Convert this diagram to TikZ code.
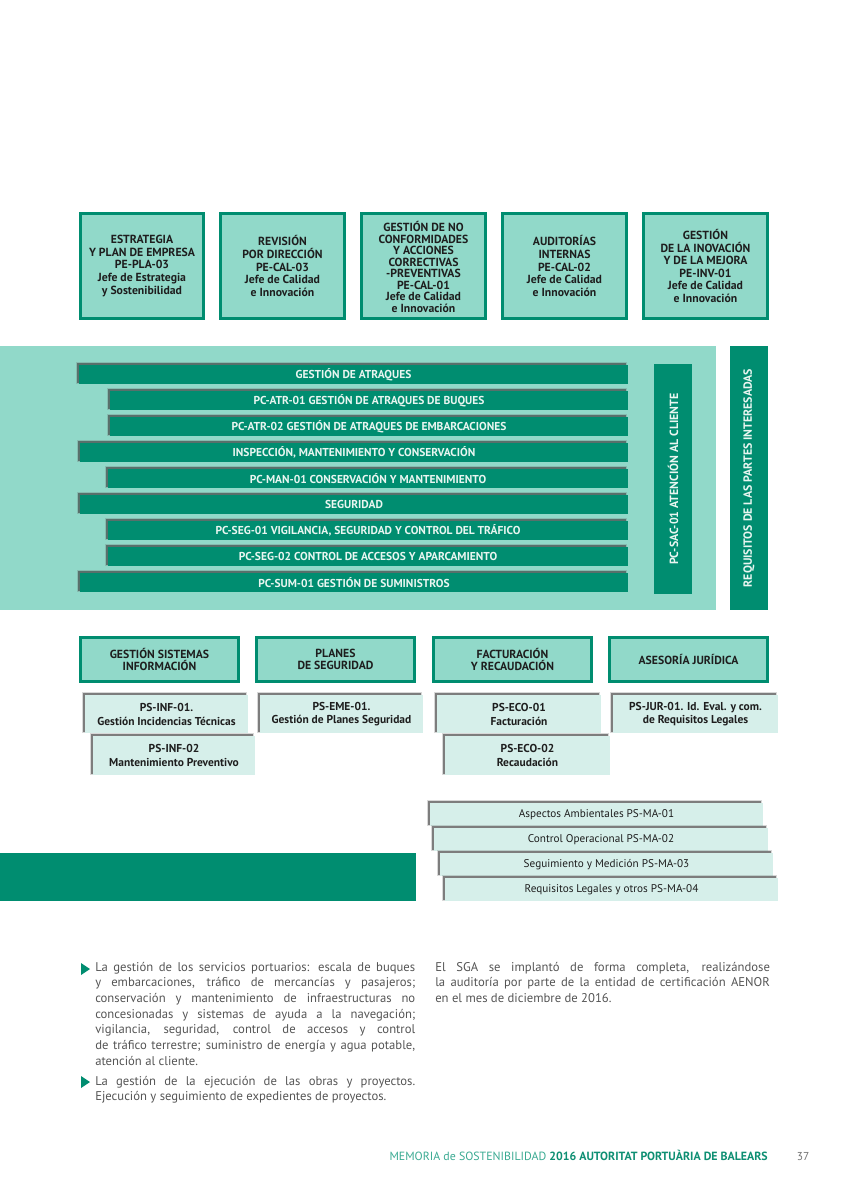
\documentclass[tikz,border=0pt]{standalone}
\usepackage{fontspec}
\setmainfont{PT Sans}
\definecolor{dg}{HTML}{008D70}
\definecolor{mint}{HTML}{91D9C9}
\definecolor{pale}{HTML}{D6EFEA}
\definecolor{txt}{HTML}{1E1E1E}
\definecolor{bodyc}{HTML}{555555}
\definecolor{footl}{HTML}{3AAA92}
\definecolor{footd}{HTML}{0E8F73}
\definecolor{bartext}{HTML}{E9F6F1}
\tikzset{
  hdr/.style={draw=dg, fill=mint, line width=2.4pt},
  hdrtxt/.style={align=center, text=txt, inner sep=0pt, font=\fontsize{8.8}{9.4}\selectfont\bfseries},
  bartxt/.style={text=bartext, inner sep=0pt, font=\fontsize{8.6}{9}\selectfont\bfseries},
  vtxt/.style={text=bartext, inner sep=0pt, rotate=90, font=\fontsize{8.9}{9}\selectfont\bfseries},
  paletxt/.style={align=center, text=txt, inner sep=0pt, font=\fontsize{8.6}{9.8}\selectfont\bfseries},
  envtxt/.style={text=txt, inner sep=0pt, font=\fontsize{8.4}{9}\selectfont},
  shadowA/.style={fill=black!80, opacity=.55},
  shadowB/.style={fill=black!60, opacity=.25},
  bodytxt/.style={anchor=north west, inner sep=0pt, align=justify, text=bodyc, font=\fontsize{9.5}{11.7}\selectfont},
}
\newcommand\topbox[6]{%
  \draw[hdr] (#1+1.6,#2+1.6) rectangle (#3-1.6,#4-1.6);
  \node[hdrtxt] (#5) at ({(#1+#3)/2},{(#2+#4)/2}) {#6};}
\newcommand\shadowed[5]{% x1 y1 x2 y2 fill
  \fill[shadowB] (#1-3.5,#2-3.5) rectangle (#3-1,#4);
  \fill[shadowA] (#1-2.5,#2-2.5) rectangle (#3-2,#4-1);
  \fill[#5] (#1,#2) rectangle (#3,#4);}
\begin{document}
\begin{tikzpicture}[x=0.75pt,y=-0.75pt]
\useasboundingbox (0,0) rectangle (849,1200);
\fill[white] (0,0) rectangle (849,1200);
% top boxes
\topbox{79}{212}{205}{320}{b1}{ESTRATEGIA\\Y PLAN DE EMPRESA\\PE-PLA-03\\Jefe de Estrategia\\y Sostenibilidad}
\topbox{219}{212}{346}{320}{b2}{REVISIÓN\\POR DIRECCIÓN\\PE-CAL-03\\Jefe de Calidad\\e Innovación}
\draw[hdr] (361.6,213.6) rectangle (485.4,318.4);
\node[hdrtxt, font=\fontsize{8.8}{8.6}\selectfont\bfseries] (b3) at (423.5,267) {GESTIÓN DE NO\\CONFORMIDADES\\Y ACCIONES\\CORRECTIVAS\\-PREVENTIVAS\\PE-CAL-01\\Jefe de Calidad\\e Innovación};
\topbox{501}{212}{628}{320}{b4}{AUDITORÍAS\\INTERNAS\\PE-CAL-02\\Jefe de Calidad\\e Innovación}
\topbox{642}{212}{769}{320}{b5}{GESTIÓN\\DE LA INOVACIÓN\\Y DE LA MEJORA\\PE-INV-01\\Jefe de Calidad\\e Innovación}
% panel
\fill[mint] (0,346) rectangle (716,610);
\shadowed{79}{365}{628}{384}{dg}
\node[bartxt] (r1) at (353.5,374.5) {GESTIÓN DE ATRAQUES};
\shadowed{110}{391}{628}{410}{dg}
\node[bartxt] (r2) at (369,400.5) {PC-ATR-01 GESTIÓN DE ATRAQUES DE BUQUES};
\shadowed{110}{417}{628}{436}{dg}
\node[bartxt] (r3) at (369,426.5) {PC-ATR-02 GESTIÓN DE ATRAQUES DE EMBARCACIONES};
\shadowed{80}{443}{628}{462}{dg}
\node[bartxt] (r4) at (354,452.5) {INSPECCIÓN, MANTENIMIENTO Y CONSERVACIÓN};
\shadowed{108}{469}{628}{488}{dg}
\node[bartxt] (r5) at (368,478.5) {PC-MAN-01 CONSERVACIÓN Y MANTENIMIENTO};
\shadowed{80}{495}{628}{514}{dg}
\node[bartxt] (r6) at (354,504.5) {SEGURIDAD};
\shadowed{108}{521}{628}{540}{dg}
\node[bartxt] (r7) at (368,530.5) {PC-SEG-01 VIGILANCIA, SEGURIDAD Y CONTROL DEL TRÁFICO};
\shadowed{108}{547}{628}{566}{dg}
\node[bartxt] (r8) at (368,556.5) {PC-SEG-02 CONTROL DE ACCESOS Y APARCAMIENTO};
\shadowed{80}{573}{628}{592}{dg}
\node[bartxt] (r9) at (354,582.5) {PC-SUM-01 GESTIÓN DE SUMINISTROS};
\fill[dg] (654,364) rectangle (692,594);
\node[vtxt] (sac) at (673,479) {PC-SAC-01 ATENCIÓN AL CLIENTE};
\fill[dg] (730,346) rectangle (768,610);
\node[vtxt] (req) at (749,478) {REQUISITOS DE LAS PARTES INTERESADAS};
% support headers
\topbox{79}{636}{240}{683}{s1}{GESTIÓN SISTEMAS\\INFORMACIÓN}
\topbox{255}{636}{416}{683}{s2}{PLANES\\DE SEGURIDAD}
\topbox{432}{636}{593}{683}{s3}{FACTURACIÓN\\Y RECAUDACIÓN}
\topbox{608}{636}{769}{683}{s4}{ASESORÍA JURÍDICA}
% pale boxes
\shadowed{85}{695}{248}{733}{pale}
\node[paletxt] (p1) at (166.5,714.5) {PS-INF-01.\\Gestión Incidencias Técnicas};
\shadowed{93}{736}{255}{775}{pale}
\node[paletxt] (p2) at (174,755.5) {PS-INF-02\\Mantenimiento Preventivo};
\shadowed{260}{695}{423}{733}{pale}
\node[paletxt] (p3) at (341.5,714.5) {PS-EME-01.\\Gestión de Planes Seguridad};
\shadowed{437}{695}{601}{733}{pale}
\node[paletxt] (p4) at (519,714.5) {PS-ECO-01\\Facturación};
\shadowed{445}{736}{610}{775}{pale}
\node[paletxt] (p5) at (527.5,755.5) {PS-ECO-02\\Recaudación};
\shadowed{613}{695}{778}{733}{pale}
\node[paletxt] (p6) at (695.5,714.5) {PS-JUR-01. Id. Eval. y com.\\de Requisitos Legales};
% environmental
\shadowed{430}{803}{763}{826}{pale}
\node[envtxt] (e1) at (596.5,814.5) {Aspectos Ambientales PS-MA-01};
\shadowed{434}{828}{768}{851}{pale}
\node[envtxt] (e2) at (601,839.5) {Control Operacional PS-MA-02};
\shadowed{440}{853}{773}{876}{pale}
\node[envtxt] (e3) at (606.5,864.5) {Seguimiento y Medición PS-MA-03};
\shadowed{445}{878}{778}{901}{pale}
\node[envtxt] (e4) at (611.5,889.5) {Requisitos Legales y otros PS-MA-04};
\fill[dg] (0,853) rectangle (416,901);
% body text
\fill[dg] (81,963) -- (90,969) -- (81,975) -- cycle;
\node[bodytxt, text width=240pt] (t1) at (95,962) {La gestión de los servicios portuarios: escala de buques\linebreak y embarcaciones, tráfico de mercancías y pasajeros;\linebreak conservación y mantenimiento de infraestructuras no\linebreak concesionadas y sistemas de ayuda a la navegación;\linebreak vigilancia, seguridad, control de accesos y control\linebreak de tráfico terrestre; suministro de energía y agua potable,\linebreak atención al cliente.};
\fill[dg] (81,1076) -- (90,1082) -- (81,1088) -- cycle;
\node[bodytxt, text width=240pt] (t2) at (95,1076) {La gestión de la ejecución de las obras y proyectos.\linebreak Ejecución y seguimiento de expedientes de proyectos.};
\node[bodytxt, text width=251pt] (t3) at (435,962) {El SGA se implantó de forma completa, realizándose\linebreak la auditoría por parte de la entidad de certificación AENOR\linebreak en el mes de diciembre de 2016.};
% footer
\node[anchor=base east, inner sep=0pt, font=\fontsize{8.9}{9}\selectfont] (ft) at (768,1160) {\textcolor{footl}{MEMORIA de SOSTENIBILIDAD} \textcolor{footd}{\bfseries 2016 AUTORITAT PORTUÀRIA DE BALEARS}};
\node[anchor=base, inner sep=0pt, text=black!55, font=\fontsize{8.6}{9}\selectfont] (pg) at (803,1160) {37};
\end{tikzpicture}
\end{document}
